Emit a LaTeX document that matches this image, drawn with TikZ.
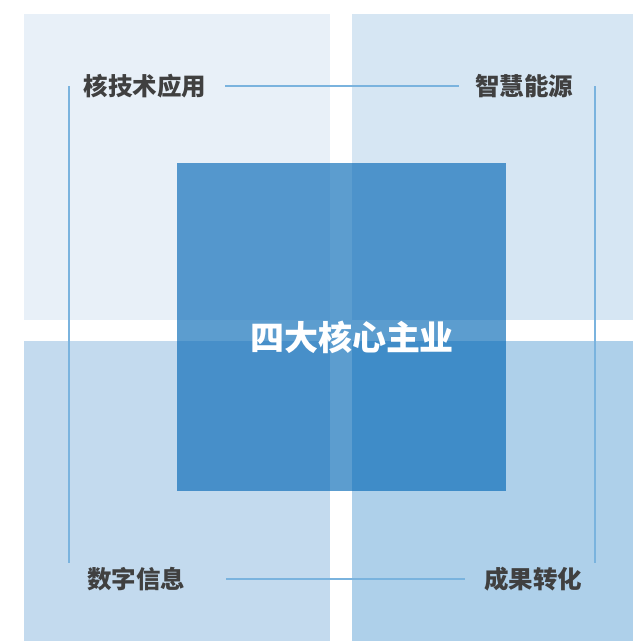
\documentclass[tikz,border=0pt]{standalone}
\usepackage{fontspec}
\setmainfont{Noto Sans CJK SC}
\usetikzlibrary{positioning}

\definecolor{quadTL}{HTML}{E8F0F8}
\definecolor{quadTR}{HTML}{D6E6F3}
\definecolor{quadBL}{HTML}{C3DAEE}
\definecolor{quadBR}{HTML}{AED0EA}
\definecolor{coreblue}{RGB}{5,104,182}
\definecolor{linkblue}{HTML}{7AB3DE}
\definecolor{itemgray}{HTML}{404040}

\tikzset{
  itemtext/.style={text=itemgray, font=\fontsize{24.5}{24.5}\selectfont\bfseries, inner sep=0pt},
  linkline/.style={draw=linkblue, line width=1.2pt},
}

\begin{document}
\begin{tikzpicture}[x=1pt, y=-1pt]
        \useasboundingbox (0, 0) rectangle (633, 641);

        % four quadrants
        \fill[quadTL] (24, 14) rectangle (330, 320);
        \fill[quadTR] (352, 14) rectangle (633, 320);
        \fill[quadBL] (24, 341) rectangle (330, 641);
        \fill[quadBR] (352, 341) rectangle (633, 641);

        % centre square
        \fill[coreblue, fill opacity=0.65] (177, 163) rectangle (506, 491);
        \node[text=white, font=\fontsize{34}{34}\selectfont\bfseries, inner sep=0pt] (core) at (352, 337) {四大核心主业};

        % the four fields
        \node[itemtext] (tech) at (145, 86) {核技术应用};
        \node[itemtext] (energy) at (524, 86) {智慧能源};
        \node[itemtext] (digital) at (136, 579) {数字信息};
        \node[itemtext] (result) at (533, 579) {成果转化};

        \coordinate (leftTop) at (69, 86);
        \coordinate (leftBot) at (69, 563);
        \coordinate (rightTop) at (595, 86);
        \coordinate (rightBot) at (595, 563);

        \draw[linkline, shorten <=19pt, shorten >=16pt] (tech.east) -- (energy.west);
        \draw[linkline, shorten <=41pt, shorten >=19pt] (digital.east) -- (result.west);
        \draw[linkline] (leftTop) -- (leftBot);
        \draw[linkline] (rightTop) -- (rightBot);
    \end{tikzpicture}
\end{document}
